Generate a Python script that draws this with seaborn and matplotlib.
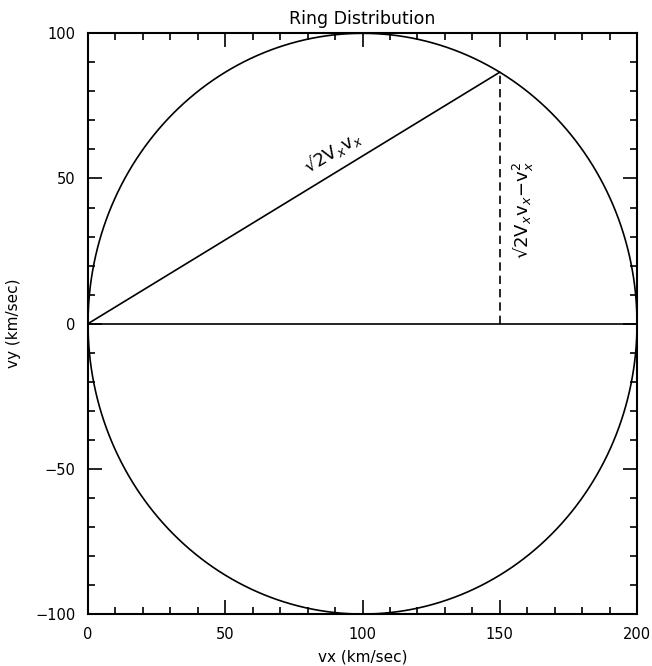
import numpy as np
import pandas as pd
import matplotlib.pyplot as plt
import seaborn as sns
from matplotlib.ticker import MultipleLocator

# ring parameters (km/sec)
ring_center = [100, 0]
ring_radius = 100
# point on the ring used for the construction
vx_point = 150
vy_point = 86.6
diameter_x = [0, 200]
diameter_y = [0, 0]

sns.set_style("white")
plt.rcParams["font.family"] = ["DejaVu Sans"]
plt.rcParams["text.color"] = "black"
plt.rcParams["axes.labelcolor"] = "black"
plt.rcParams["xtick.color"] = "black"
plt.rcParams["ytick.color"] = "black"
plt.rcParams["xtick.direction"] = "in"
plt.rcParams["ytick.direction"] = "in"

theta = np.linspace(0, 2 * np.pi, 721)
ring = pd.DataFrame({
    "vx": ring_center[0] + ring_radius * np.cos(theta),
    "vy": ring_center[1] + ring_radius * np.sin(theta),
})
chord = pd.DataFrame({"vx": [0, vx_point], "vy": [0, vy_point]})
perp = pd.DataFrame({"vx": [vx_point, vx_point], "vy": [0, vy_point]})
diam = pd.DataFrame({"vx": diameter_x, "vy": diameter_y})

fig = plt.figure(figsize=(6.52, 6.66), dpi=100)
ax = fig.add_axes([0.135, 0.078, 0.842, 0.872])

kw = dict(x="vx", y="vy", sort=False, estimator=None, color="black", lw=1.2, ax=ax)
sns.lineplot(data=ring, **kw)
sns.lineplot(data=chord, **kw)
sns.lineplot(data=diam, **kw)
sns.lineplot(data=perp, linestyle=(0, (5, 3)), **kw)

ax.text(89, 59, "√2V$_x$v$_x$", rotation=31.5, fontsize=13,
        ha="center", va="center")
ax.text(158.5, 39, "√2V$_x$v$_x$−v$_x^2$", rotation=90, fontsize=13,
        ha="center", va="center")

ax.set_xlim(0, 200)
ax.set_ylim(-100, 100)
ax.xaxis.set_major_locator(MultipleLocator(50))
ax.xaxis.set_minor_locator(MultipleLocator(10))
ax.yaxis.set_major_locator(MultipleLocator(50))
ax.yaxis.set_minor_locator(MultipleLocator(10))
ax.tick_params(which="both", direction="in", top=True, right=True,
               bottom=True, left=True, labelsize=10.5, color="black", width=1.2)
ax.tick_params(which="major", length=10, pad=9)
ax.tick_params(which="minor", length=5)
for s in ax.spines.values():
    s.set_color("black")
    s.set_linewidth(1.5)

ax.set_title("Ring Distribution", fontsize=12.5, pad=7)
ax.set_xlabel("vx (km/sec)", fontsize=11, labelpad=6)
ax.set_ylabel("vy (km/sec)", fontsize=11, labelpad=10)

fig.savefig("out.png", dpi=100)
